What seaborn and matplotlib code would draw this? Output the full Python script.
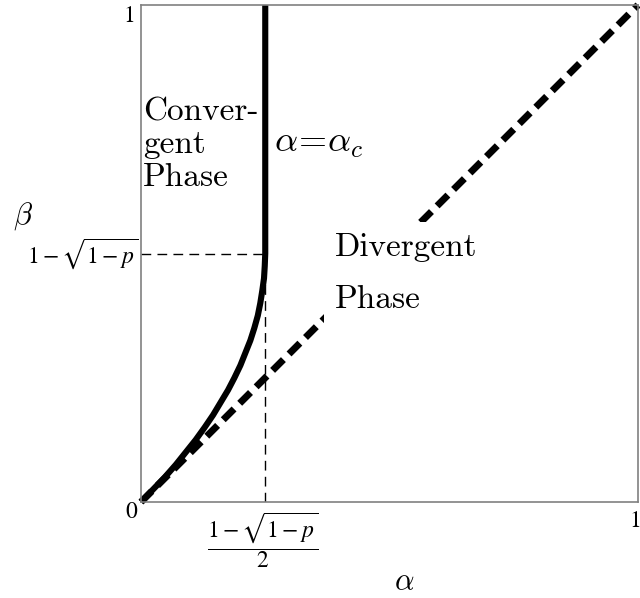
import matplotlib
matplotlib.use("Agg")
import matplotlib.pyplot as plt
import seaborn as sns

# phase boundary alpha_c(beta)
phase_alpha = [0.0, 0.024, 0.048, 0.07, 0.09, 0.11, 0.128, 0.145, 0.16, 0.175, 0.188,
               0.2, 0.21, 0.22, 0.228, 0.235, 0.24, 0.244, 0.2475, 0.249, 0.25, 0.25]
phase_beta = [0.0, 0.025, 0.05, 0.075, 0.1, 0.125, 0.15, 0.175, 0.2, 0.225, 0.25,
              0.275, 0.3, 0.325, 0.35, 0.375, 0.4, 0.425, 0.45, 0.475, 0.5, 1.0]

# divergent line
diag_alpha = [0.0, 1.0]
diag_beta = [0.0, 1.0]

alpha_c = 0.25
beta_c = 0.5

sns.set_theme(style="white")
plt.rcParams["mathtext.fontset"] = "cm"

fig = plt.figure(figsize=(6.4, 5.98), dpi=100)
ax = fig.add_axes([141 / 640, 96 / 598, 497 / 640, 497 / 598])

# thin guide lines
sns.lineplot(x=[0, alpha_c], y=[beta_c, beta_c], sort=False, estimator=None,
             color="black", lw=1.0, ax=ax).lines[-1].set_dashes((7, 4.5))
sns.lineplot(x=[alpha_c, alpha_c], y=[0, beta_c], sort=False, estimator=None,
             color="black", lw=1.0, ax=ax).lines[-1].set_dashes((7, 4.5))

sns.lineplot(x=diag_alpha, y=diag_beta, sort=False, estimator=None, color="black",
             lw=5, ax=ax, clip_on=False).lines[-1].set_dashes((2.2, 1.15))
sns.lineplot(x=phase_alpha, y=phase_beta, sort=False, estimator=None,
             color="black", lw=4.4, ax=ax, clip_on=False, solid_capstyle="butt")

ax.set_xlim(0, 1)
ax.set_ylim(0, 1)
ax.set_xticks([])
ax.set_yticks([])
for s in ax.spines.values():
    s.set_color("#808080")
    s.set_linewidth(1.2)

serif = dict(fontfamily="cmr10", fontsize=24, color="black")
tick = dict(fontfamily="STIXGeneral", math_fontfamily="stix", fontsize=17, color="black")

ax.text(-0.019, -0.02, "0", ha="center", va="center", **tick)
ax.text(-0.012, 0.978, "1", ha="right", va="center", **tick)
ax.text(0.994, -0.038, "1", ha="center", va="center", **tick)
ax.text(-0.006, beta_c, r"$1-\sqrt{1-p}$", ha="right", va="center", **tick)
ax.text(alpha_c - 0.005, -0.076, r"$\dfrac{1-\sqrt{1-p}}{2}$", ha="center", va="center", **tick)

ax.text(0.529, -0.161, r"$\alpha$", ha="center", va="center", fontsize=22, color="black")
ax.text(-0.237, 0.575, r"$\beta$", ha="center", va="center", fontsize=22, color="black")

ax.text(0.004, 0.813, "Conver-\ngent\nPhase", ha="left", va="top", linespacing=1.15, **serif)
ax.text(0.268, 0.722, r"$\alpha\!=\!\alpha_c$", ha="left", va="center", fontsize=26, color="black")
ax.text(0.39, 0.541, "Divergent\nPhase", ha="left", va="top", linespacing=2.0,
        bbox=dict(facecolor="white", edgecolor="none", pad=8), **serif)

fig.savefig("out.png", dpi=100)
